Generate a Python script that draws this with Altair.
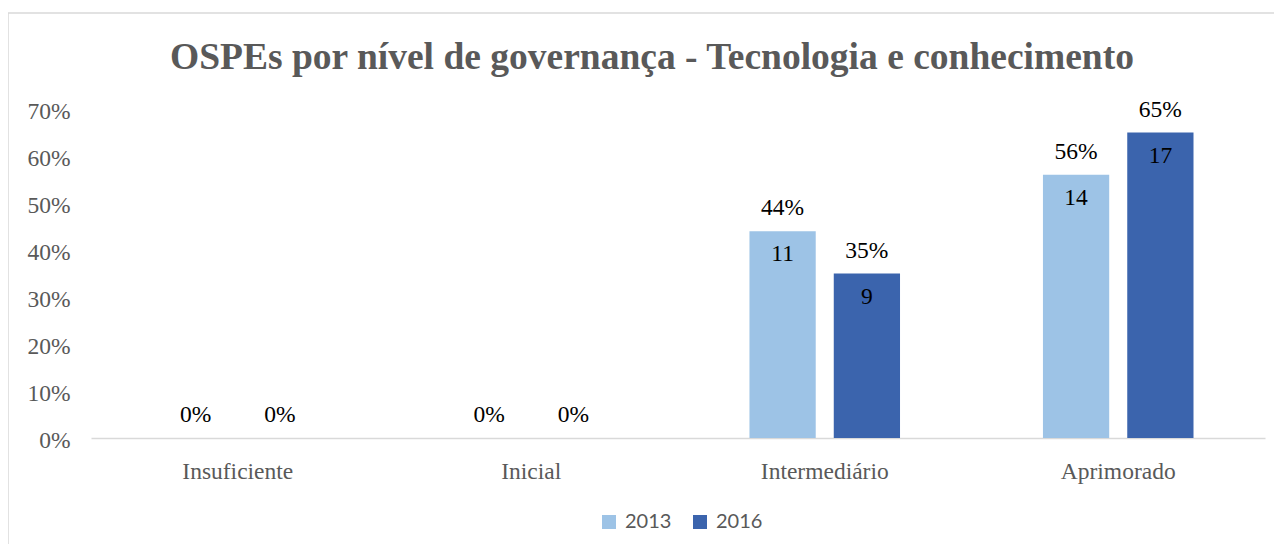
import altair as alt
import pandas as pd

categories = ["Insuficiente", "Inicial", "Intermediário", "Aprimorado"]
years = ["2013", "2016"]
share_2013 = [0.0, 0.0, 0.44, 0.56]
share_2016 = [0.0, 0.0, 0.35, 0.65]
count_2013 = [0, 0, 11, 14]
count_2016 = [0, 0, 9, 17]
title_text = "OSPEs por nível de governança - Tecnologia e conhecimento"
y_ticks = [0.0, 0.1, 0.2, 0.3, 0.4, 0.5, 0.6, 0.7]
colors = ["#9DC3E6", "#3B64AD"]

rows = []
for i, c in enumerate(categories):
    rows.append({"nivel": c, "ano": "2013", "share": share_2013[i], "count": count_2013[i]})
    rows.append({"nivel": c, "ano": "2016", "share": share_2016[i], "count": count_2016[i]})
df = pd.DataFrame(rows)

W, H = 1174, 329
SERIF = "Liberation Serif"

x = alt.X(
    "nivel:N", sort=categories,
    scale=alt.Scale(paddingInner=0.487, paddingOuter=0.2436),
    axis=alt.Axis(title=None, labelAngle=0, ticks=False, domainColor="#D9D9D9",
                  domainWidth=1.5, labelFont=SERIF, labelFontSize=23.5,
                  labelColor="#595959", labelPadding=40, labelBaseline="alphabetic"),
)
xo = alt.XOffset("ano:N", sort=years, scale=alt.Scale(paddingInner=0.214, paddingOuter=0))
y = alt.Y(
    "share:Q",
    scale=alt.Scale(domain=[0, 0.7], nice=False),
    axis=alt.Axis(title=None, values=y_ticks, format=".0%", grid=False, domain=False,
                  ticks=False, labelPadding=21, labelFont=SERIF, labelFontSize=23.5,
                  labelColor="#595959", labelOffset=2),
)
color = alt.Color(
    "ano:N", sort=years,
    scale=alt.Scale(domain=years, range=colors),
    legend=alt.Legend(title=None, orient="none", legendX=508, legendY=403,
                      direction="horizontal", symbolType="square", symbolSize=196,
                      labelFont="Lato", labelFontSize=20, labelColor="#595959",
                      labelOffset=6, columnPadding=18, symbolStrokeWidth=0, padding=0),
)

base = alt.Chart(df)
bars = base.mark_bar().encode(x=x, xOffset=xo, y=y, color=color)
pct = base.mark_text(baseline="middle", dy=-23, font=SERIF, fontSize=23.5, color="black").encode(
    x=x, xOffset=xo, y=y, text=alt.Text("share:Q", format=".0%"))
cnt = base.transform_filter("datum.count > 0").mark_text(
    baseline="middle", dy=23, font=SERIF, fontSize=23.5, color="black").encode(
    x=x, xOffset=xo, y=y, text=alt.Text("count:Q"))

frame = alt.Chart(pd.DataFrame({"k": [0]})).mark_rect(
    fill="transparent", stroke="#D9D9D9", strokeWidth=1.5).encode(
    x=alt.value(-83), x2=alt.value(W + 40), y=alt.value(-96), y2=alt.value(H + 140))

title = alt.Chart(pd.DataFrame({"t": [title_text]})).mark_text(
    font=SERIF, fontSize=37.5, fontWeight="bold", color="#595959",
    baseline="alphabetic", align="center").encode(
    x=alt.value(561), y=alt.value(-40), text="t:N")

chart = alt.layer(frame, bars, pct, cnt, title).properties(
    width=W, height=H,
    autosize=alt.AutoSizeParams(type="none"),
    padding={"left": 83, "top": 101, "right": 9, "bottom": 106},
).configure_view(stroke=None)

chart.save("out.html", embed_options={"renderer": "svg", "actions": False})
